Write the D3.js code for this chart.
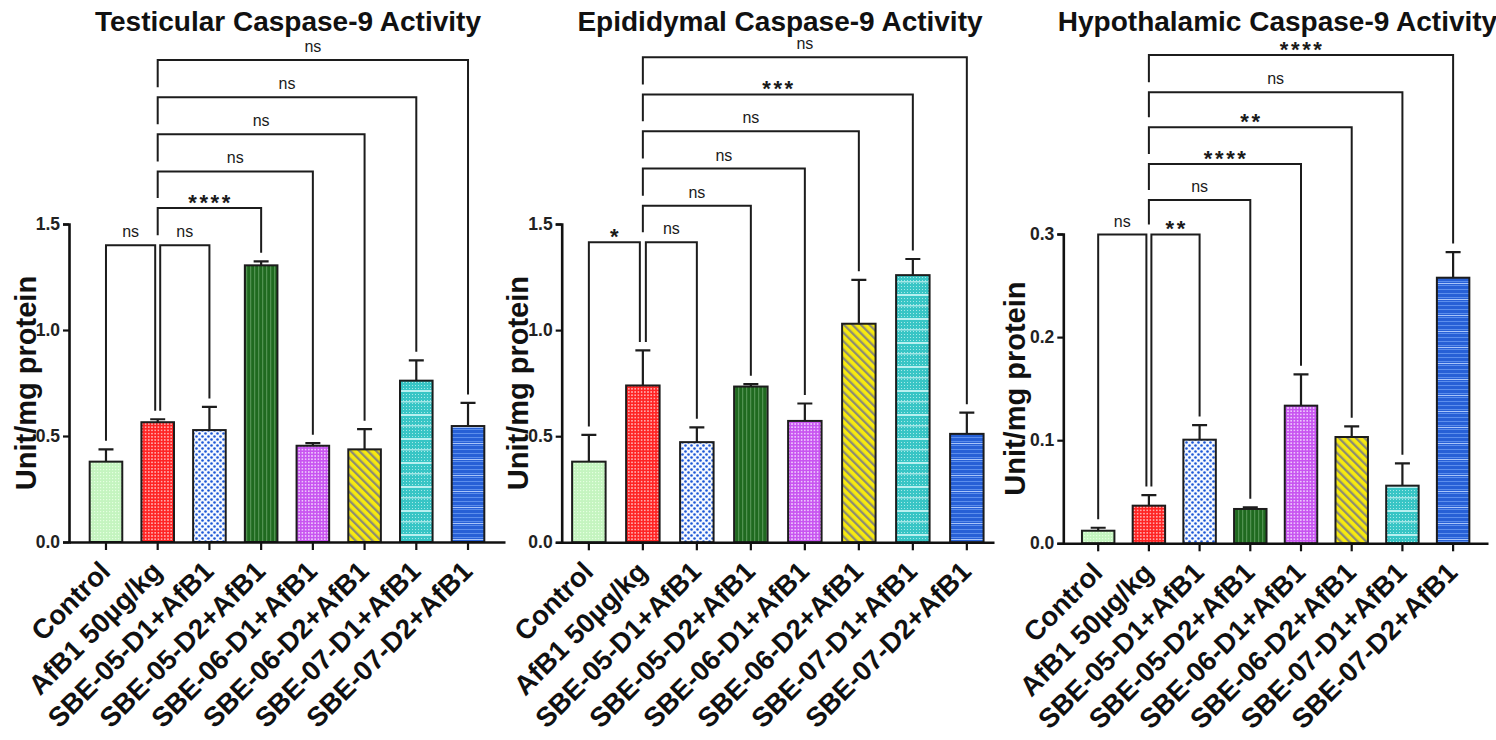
<!DOCTYPE html>
<html><head><meta charset="utf-8">
<script src="https://cdn.jsdelivr.net/npm/d3@7"></script>
<style>
body{margin:0;background:#fff}
svg{display:block}
text{font-family:"Liberation Sans",Arial,Helvetica,sans-serif}
</style>
</head><body>
<svg id="chart" width="1496" height="740"></svg>
<script>
// ---------------- DATA ----------------
const categories = ["Control","AfB1 50µg/kg","SBE-05-D1+AfB1","SBE-05-D2+AfB1","SBE-06-D1+AfB1","SBE-06-D2+AfB1","SBE-07-D1+AfB1","SBE-07-D2+AfB1"];

const testicularMean = [0.379, 0.565, 0.528, 1.305, 0.454, 0.437, 0.761, 0.547];
const testicularErr  = [0.058, 0.014, 0.109, 0.019, 0.012, 0.095, 0.096, 0.109];
const testicularCtrlSig = "ns";
const testicularSig = ["ns","****","ns","ns","ns","ns"];
const testicularLevels = [1.400, 1.575, 1.748, 1.923, 2.098, 2.274];

const epididymalMean = [0.380, 0.739, 0.472, 0.734, 0.572, 1.030, 1.259, 0.511];
const epididymalErr  = [0.126, 0.165, 0.070, 0.011, 0.082, 0.207, 0.076, 0.100];
const epididymalCtrlSig = "*";
const epididymalSig = ["ns","ns","ns","ns","***","ns"];
const epididymalLevels = [1.414, 1.586, 1.761, 1.937, 2.110, 2.286];

const hypothalamicMean = [0.0122, 0.0365, 0.1005, 0.0333, 0.1335, 0.1031, 0.0559, 0.2576];
const hypothalamicErr  = [0.0029, 0.0103, 0.0142, 0.0016, 0.0304, 0.0104, 0.0217, 0.0249];
const hypothalamicCtrlSig = "ns";
const hypothalamicSig = ["**","ns","****","**","ns","****"];
const hypothalamicLevels = [0.2995, 0.3330, 0.3678, 0.4035, 0.4375, 0.4735];

const ticksA = [0, 0.5, 1.0, 1.5];
const ticksB = [0, 0.1, 0.2, 0.3];

const titles = ["Testicular Caspase-9 Activity","Epididymal Caspase-9 Activity","Hypothalamic Caspase-9 Activity"];
const yLabel = "Unit/mg protein";

// ---------------- LAYOUT ----------------
const panels = [
  {title:titles[0], mean:testicularMean, err:testicularErr, ctrlSig:testicularCtrlSig, sig:testicularSig, levels:testicularLevels, ticks:ticksA, ymax:1.5,
   L:{x0:69, x1:505, pi:0.37, po:0.40, y0:542, yTop:224, titleX:288, ylabX:36, leg:2.5}},
  {title:titles[1], mean:epididymalMean, err:epididymalErr, ctrlSig:epididymalCtrlSig, sig:epididymalSig, levels:epididymalLevels, ticks:ticksA, ymax:1.5,
   L:{x0:561.7, x1:994, pi:0.38, po:0.193, y0:542.3, yTop:224, titleX:780, ylabX:528, leg:3}},
  {title:titles[2], mean:hypothalamicMean, err:hypothalamicErr, ctrlSig:hypothalamicCtrlSig, sig:hypothalamicSig, levels:hypothalamicLevels, ticks:ticksB, ymax:0.3,
   L:{x0:1063.3, x1:1488, pi:0.36, po:0.368, y0:543.3, yTop:234, titleX:1277.5, ylabX:1025, leg:2.5}}
];

const svg = d3.select("#chart");
svg.append("rect").attr("width",1496).attr("height",740).attr("fill","#fff");

// ---------------- PATTERNS ----------------
const defs = svg.append("defs");
function pat(id, w, h, bg, draw, transform){
  const p = defs.append("pattern").attr("id",id).attr("patternUnits","userSpaceOnUse").attr("width",w).attr("height",h);
  if (transform) p.attr("patternTransform", transform);
  p.append("rect").attr("width",w).attr("height",h).attr("fill",bg);
  draw(p);
}
pat("pat0", 3, 3, "#c4f4bf", p => p.append("rect").attr("x",1).attr("y",1).attr("width",1.2).attr("height",1.2).attr("fill","#e4ffe0"));
pat("pat1", 3.2, 3.2, "#ff2424", p => p.append("circle").attr("cx",1.6).attr("cy",1.6).attr("r",0.8).attr("fill","#ffd6d6"));
pat("pat2", 6, 6, "#f4f8ff", p => {
  p.append("circle").attr("cx",1.5).attr("cy",1.5).attr("r",1.3).attr("fill","#1d57d6");
  p.append("circle").attr("cx",4.5).attr("cy",4.5).attr("r",1.3).attr("fill","#1d57d6");
});
pat("pat3", 4, 4, "#1f6a1f", p => p.append("rect").attr("x",2.2).attr("y",0).attr("width",1).attr("height",4).attr("fill","#5d9c5d"));
pat("pat4", 3.2, 3.2, "#c855f0", p => p.append("circle").attr("cx",1.6).attr("cy",1.6).attr("r",0.85).attr("fill","#f6e2ff"));
pat("pat5", 6, 6, "#f7ea10", p => p.append("rect").attr("x",0).attr("y",0).attr("width",2.3).attr("height",6).attr("fill","#8d8c72"), "rotate(-45)");
pat("pat6", 3, 24, "#38c5c5", p => {
  for (let yy = 0; yy < 24; yy += 3) p.append("rect").attr("x",1).attr("y",yy+1).attr("width",1).attr("height",1).attr("fill","#a6e8e8");
  p.append("rect").attr("x",0).attr("y",6).attr("width",3).attr("height",2).attr("fill","#b9f0f0");
  p.append("rect").attr("x",0).attr("y",17).attr("width",3).attr("height",1.5).attr("fill","#a3e6e6");
});
pat("pat7", 4, 16, "#2760d6", p => {
  [1,5,9,13].forEach(yy => p.append("rect").attr("x",0).attr("y",yy).attr("width",4).attr("height",1).attr("fill","#5c8eec"));
  p.append("rect").attr("x",0).attr("y",11).attr("width",4).attr("height",1).attr("fill","#a7c4fa");
});

// ---------------- DRAW ----------------
const ink = "#1c1c1c";
panels.forEach(P => {
  const L = P.L;
  const x = d3.scaleBand().domain(categories).range([L.x0, L.x1]).paddingInner(L.pi).paddingOuter(L.po);
  const y = d3.scaleLinear().domain([0, P.ymax]).range([L.y0, L.yTop]);
  const cx = i => x(categories[i]) + x.bandwidth()/2;
  const top = i => y(P.mean[i] + P.err[i]);
  const g = svg.append("g");

  // title
  g.append("text").attr("x", L.titleX).attr("y", 30.5).attr("text-anchor","middle")
    .attr("font-size", 28).attr("font-weight","bold").attr("fill","#111").text(P.title);

  // y label
  g.append("text").attr("transform", `translate(${L.ylabX},${(L.y0+L.yTop)/2}) rotate(-90)`)
    .attr("text-anchor","middle").attr("font-size", 29).attr("font-weight","bold").attr("fill","#111").text(yLabel);

  // bars
  g.selectAll("rect.bar").data(P.mean).join("rect").attr("class","bar")
    .attr("x", (d,i) => x(categories[i])).attr("y", d => y(d))
    .attr("width", x.bandwidth()).attr("height", d => y(0) - y(d))
    .attr("fill", (d,i) => `url(#pat${i})`).attr("stroke", ink).attr("stroke-width", 2);

  // error bars (upper only)
  g.selectAll("path.err").data(P.mean).join("path").attr("class","err")
    .attr("d", (d,i) => `M${cx(i)},${y(d)}V${top(i)}M${cx(i)-7.5},${top(i)}H${cx(i)+7.5}`)
    .attr("fill","none").attr("stroke", ink).attr("stroke-width", 2.2);

  // axes
  const yAxis = d3.axisLeft(y).tickValues(P.ticks).tickFormat(d3.format(".1f")).tickSize(6).tickPadding(3);
  const ya = g.append("g").attr("transform", `translate(${L.x0},0)`).call(yAxis);
  ya.select(".domain").attr("stroke", "#111").attr("stroke-width", 2.6);
  ya.selectAll(".tick line").attr("stroke", "#111").attr("stroke-width", 2.2);
  ya.selectAll(".tick text").attr("font-size", 17.5).attr("font-weight","bold").attr("fill","#222")
    .style("font-family", '"Liberation Sans",Arial,sans-serif');

  const xAxis = d3.axisBottom(x).tickSize(8).tickSizeOuter(0).tickFormat("");
  const xa = g.append("g").attr("transform", `translate(0,${L.y0})`).call(xAxis);
  xa.select(".domain").attr("stroke", "#111").attr("stroke-width", 2.6);
  xa.selectAll(".tick line").attr("stroke", "#111").attr("stroke-width", 2.2);

  // x labels
  g.selectAll("text.xl").data(categories).join("text").attr("class","xl")
    .attr("transform", (d,i) => `translate(${cx(i)+6},${L.y0+31}) rotate(-45)`)
    .attr("text-anchor","end").attr("font-size", 27.5).attr("font-weight","bold").attr("fill","#111")
    .text(d => d);

  // significance brackets
  const br = g.append("g").attr("fill","none").attr("stroke", ink).attr("stroke-width", 2);
  const gap = 8.5;
  function label(xm, yb, s){
    const isStar = s.indexOf("*") >= 0;
    g.append("text").attr("x", xm + (isStar ? 1.2 : 0)).attr("y", isStar ? yb + 1.5 : yb - 8)
      .attr("text-anchor","middle")
      .attr("font-size", isStar ? 22 : 16).attr("font-weight", isStar ? "bold" : "normal")
      .attr("letter-spacing", isStar ? 2.6 : 0)
      .attr("fill","#1a1a1a").text(s);
  }
  // Control vs AfB1
  {
    const yb = y(P.levels[0]);
    const xl = cx(0), xr = cx(1) - L.leg;
    br.append("path").attr("d", `M${xl},${top(0)-gap}V${yb}H${xr}V${top(1)-gap}`);
    label((xl+xr)/2, yb, P.ctrlSig);
  }
  // AfB1 vs others
  P.sig.forEach((s, k) => {
    const gi = k + 2;
    const yb = y(P.levels[k]);
    const xl = k === 0 ? cx(1) + L.leg : cx(1);
    const yl = k === 0 ? top(1) - gap : y(P.levels[k-1]) - 10;
    const xr = cx(gi);
    br.append("path").attr("d", `M${xl},${yl}V${yb}H${xr}V${top(gi)-gap}`);
    label((xl+xr)/2, yb, s);
  });
});
</script>
</body></html>
